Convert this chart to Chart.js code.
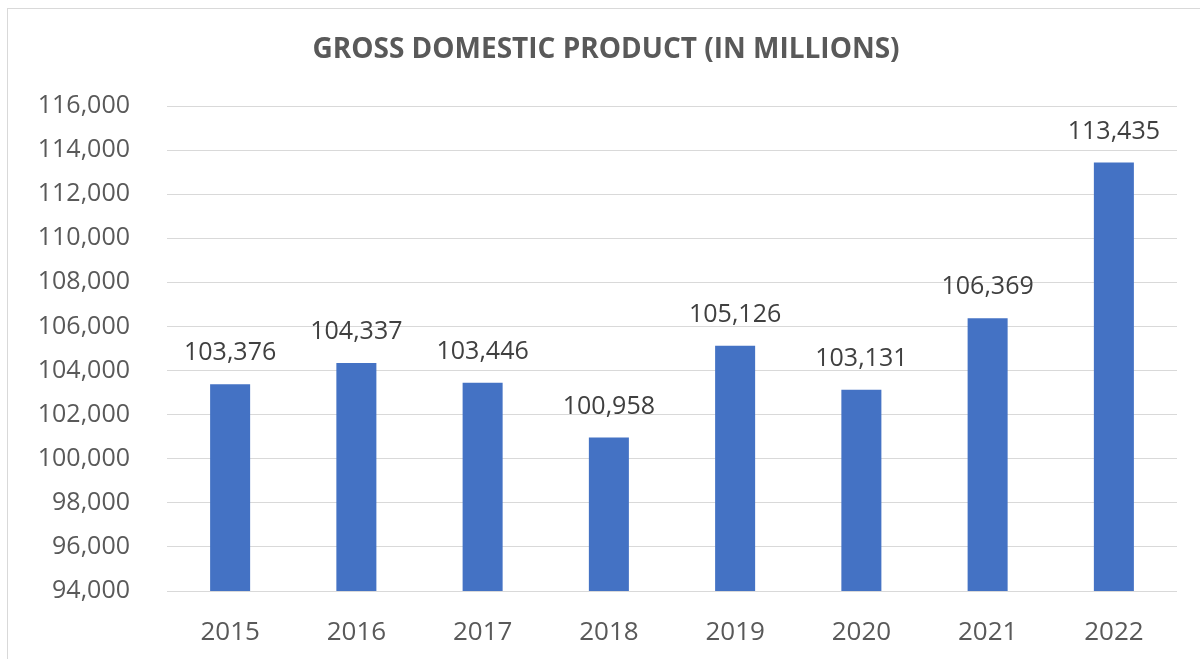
<!DOCTYPE html>
<html><head><meta charset="utf-8">
<script src="https://cdn.jsdelivr.net/npm/chart.js@4"></script>
<style>
html,body{margin:0;padding:0;background:#fff;overflow:hidden}
#frame{position:absolute;left:7px;top:8px;width:1300px;height:700px;border:1px solid #d9d9d9;box-sizing:border-box}
#wrap{position:absolute;left:0;top:0;width:1200px;height:659px}
</style></head>
<body><div id="frame"></div><div id="wrap"><canvas id="c" width="1200" height="659"></canvas></div>
<script>
const categories = ['2015','2016','2017','2018','2019','2020','2021','2022'];
const gdpValues = [103376,104337,103446,100958,105126,103131,106369,113435];
const yMin = 94000, yMax = 116000, yStep = 2000;
const titleText = 'GROSS DOMESTIC PRODUCT (IN MILLIONS)';

const FONT = "'Open Sans', sans-serif";
const fmt = v => v.toLocaleString('en-US');

const labelPlugin = {
  id: 'barLabels',
  afterDatasetsDraw(chart) {
    const ctx = chart.ctx;
    const meta = chart.getDatasetMeta(0);
    ctx.save();
    ctx.font = "25px " + FONT;
    ctx.fillStyle = '#404040';
    ctx.textAlign = 'center';
    ctx.textBaseline = 'middle';
    meta.data.forEach((bar, i) => {
      ctx.fillText(fmt(chart.data.datasets[0].data[i]), bar.x, bar.y - 31);
    });
    // chart title, centred on the frame
    ctx.font = "bold 28px " + FONT;
    ctx.fillStyle = '#595959';
    ctx.fillText(titleText, 606, 50);
    ctx.restore();
  }
};

new Chart(document.getElementById('c'), {
  type: 'bar',
  data: {
    labels: categories,
    datasets: [{
      data: gdpValues,
      backgroundColor: '#4472C4',
      borderWidth: 0,
      barPercentage: 0.317,
      categoryPercentage: 1
    }]
  },
  options: {
    responsive: false,
    animation: false,
    devicePixelRatio: 1,
    layout: { padding: { left: 0, right: 23, top: 106, bottom: 0 } },
    plugins: {
      legend: { display: false },
      tooltip: { enabled: false },
      title: { display: false }
    },
    scales: {
      x: {
        grid: { display: false },
        border: { display: false },
        ticks: { color: '#595959', font: { family: FONT, size: 26 }, padding: 18 },
        afterFit(s) { s.height = 68; }
      },
      y: {
        min: yMin, max: yMax,
        ticks: { stepSize: yStep, color: '#595959', font: { family: FONT, size: 25 }, padding: 37,
          callback: v => fmt(v) },
        grid: { color: '#d9d9d9', lineWidth: 1, drawTicks: false },
        border: { display: false },
        afterFit(s) { s.width = 167; }
      }
    }
  },
  plugins: [labelPlugin]
});
</script></body></html>
